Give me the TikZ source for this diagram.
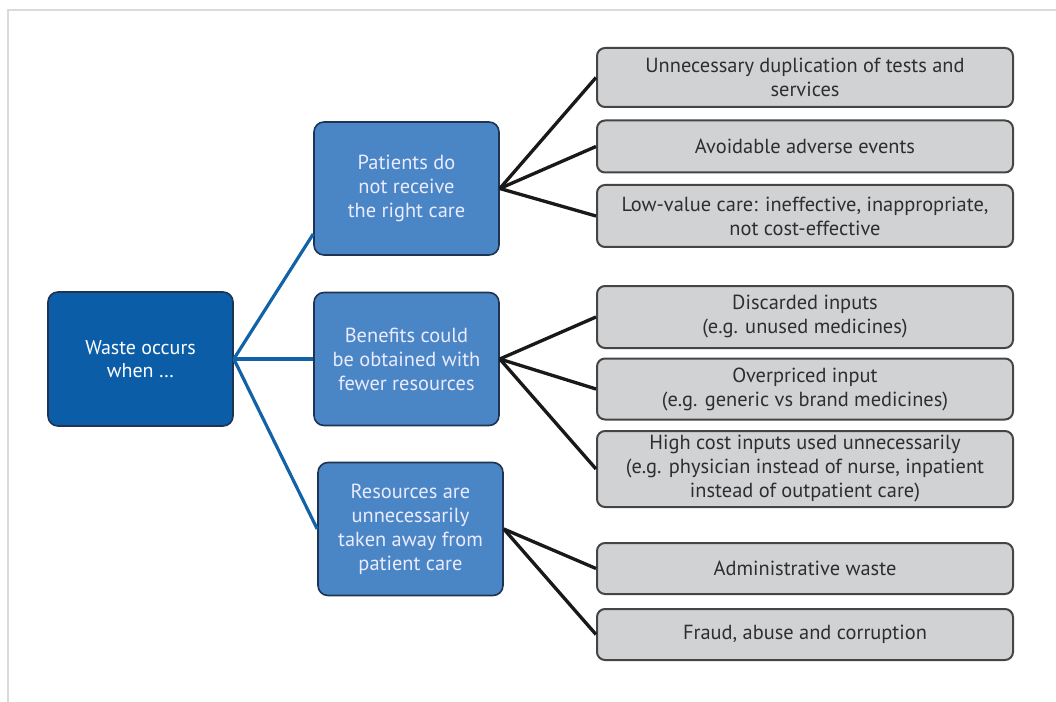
\documentclass[tikz,border=0pt]{standalone}
\usepackage{fontspec}
\setmainfont{PT Sans}
\usepackage{xcolor}

\definecolor{rootblue}{HTML}{0B5DA8}
\definecolor{midblue}{HTML}{4A86C5}
\definecolor{boxedge}{HTML}{1E3452}
\definecolor{leafgray}{HTML}{D1D2D4}
\definecolor{leafedge}{HTML}{454545}
\definecolor{linkblue}{HTML}{1262A8}
\definecolor{framegray}{HTML}{DADADA}

\begin{document}
\begin{tikzpicture}[x=0.75pt, y=-0.75pt,
  rootbox/.style={rectangle, rounded corners=7.5pt, draw=boxedge, line width=1.2pt, fill=rootblue, text=white, align=center, minimum width=138.75pt, minimum height=100.5pt, inner sep=0pt, font=\fontsize{15}{17}\selectfont},
  midbox/.style={rectangle, rounded corners=7.5pt, draw=boxedge, line width=1.2pt, fill=midblue, text=white!92!blue, align=center, minimum width=138.75pt, minimum height=99.75pt, inner sep=0pt, font=\fontsize{15.3}{18}\selectfont},
  leafbox/.style={rectangle, rounded corners=6pt, draw=leafedge, line width=1.5pt, fill=leafgray, text=black!82, align=center, minimum width=312pt, inner sep=0pt, font=\fontsize{15.3}{18}\selectfont},
  bluelink/.style={draw=linkblue, line width=2.4pt},
  blacklink/.style={draw=black!90, line width=2.5pt}]
\useasboundingbox (0,0) rectangle (1056,702);
\draw[framegray, line width=1.5pt] (7.5,702) -- (7.5,10) -- (1056,10);

\node[rootbox] (root) at (140.5,359) {Waste occurs\\when …};

\node[midbox] (wrongcare) at (406.5,188.5) {Patients do\\not receive\\the right care};
\node[midbox] (fewer) at (406.5,359) {Benefits could\\be obtained with\\fewer resources};
\node[midbox] (takenaway) at (410.5,529) {Resources are\\unnecessarily\\taken away from\\patient care};

\node[leafbox, minimum height=44.25pt] (duplic) at (805,77.5) {Unnecessary duplication of tests and\\services};
\node[leafbox, minimum height=39pt] (adverse) at (805,146.5) {Avoidable adverse events};
\node[leafbox, minimum height=46.5pt] (lowvalue) at (805,216) {Low-value care: ineffective, inappropriate,\\not cost-effective};
\node[leafbox, minimum height=46.5pt] (discard) at (805,317) {Discarded inputs\\(e.g. unused medicines)};
\node[leafbox, minimum height=45.75pt] (overpriced) at (805,389) {Overpriced input\\(e.g. generic vs brand medicines)};
\node[leafbox, minimum height=57pt] (highcost) at (805,469) {High cost inputs used unnecessarily\\(e.g. physician instead of nurse, inpatient\\instead of outpatient care)};
\node[leafbox, minimum height=38.25pt] (admin) at (805,568.5) {Administrative waste};
\node[leafbox, minimum height=38.25pt] (fraud) at (805,634.5) {Fraud, abuse and corruption};

\draw[bluelink] (root.east) -- (wrongcare.206);
\draw[bluelink] (root.east) -- (fewer.west);
\draw[bluelink] (root.east) -- (takenaway.west);

\draw[blacklink] (wrongcare.east) -- (duplic.west);
\draw[blacklink] (wrongcare.east) -- (adverse.west);
\draw[blacklink] (wrongcare.east) -- (lowvalue.west);
\draw[blacklink] (fewer.east) -- (discard.west);
\draw[blacklink] (fewer.east) -- (overpriced.west);
\draw[blacklink] (fewer.east) -- (highcost.west);
\draw[blacklink] (takenaway.east) -- (admin.west);
\draw[blacklink] (takenaway.east) -- (fraud.west);
\end{tikzpicture}
\end{document}
